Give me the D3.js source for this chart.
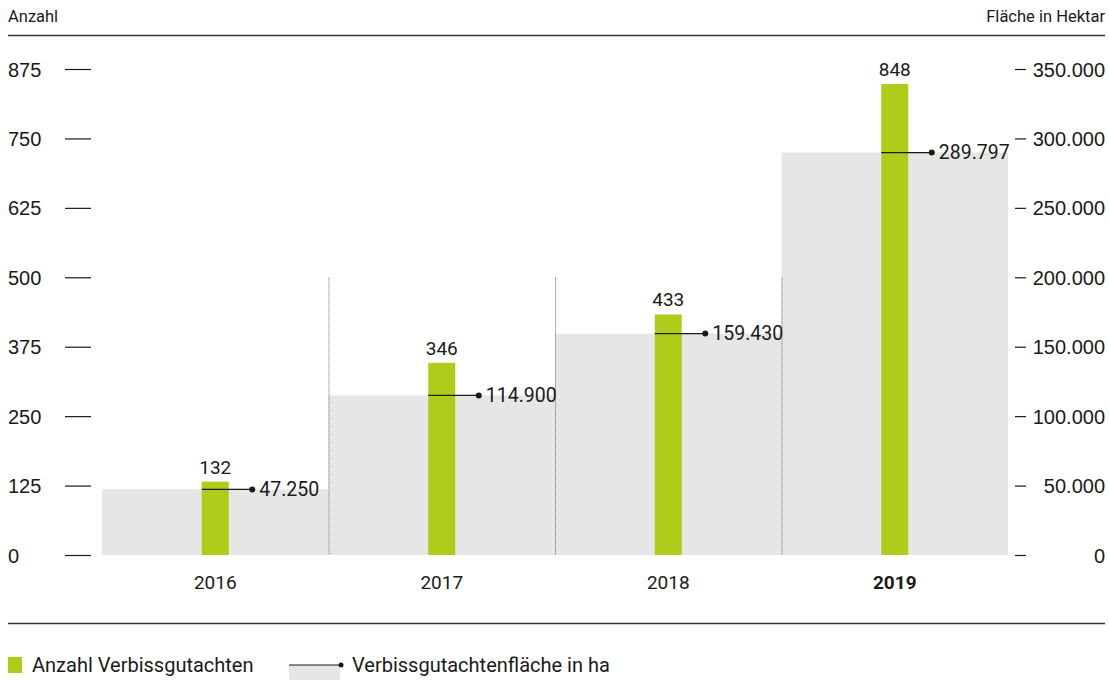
<!DOCTYPE html>
<html lang="de">
<head>
<meta charset="utf-8">
<title>Verbissgutachten</title>
<script src="https://d3js.org/d3.v7.min.js"></script>
<style>
  body { margin: 0; background: #fff; }
  svg { font-family: "Roboto", "Liberation Sans", sans-serif; fill: #1a1a1a; }
  .axis text { font-size: 20px; fill: #1a1a1a; }
</style>
</head>
<body>
<script>
// data
var years = ["2016", "2017", "2018", "2019"];
var anzahl = [132, 346, 433, 848];
var flaeche = [47250, 114900, 159430, 289797];
var leftTicks = [0, 125, 250, 375, 500, 625, 750, 875];
var rightTicks = [0, 50000, 100000, 150000, 200000, 250000, 300000, 350000];

var w = 1109, h = 680;
var green = "#b0cb19", grey = "#e6e6e6", ink = "#1a1a1a";

var de = d3.formatLocale({decimal: ",", thousands: ".", grouping: [3], currency: ["", "€"]});
var fmt = de.format(",d");

var svg = d3.select("body").append("svg")
    .attr("width", w)
    .attr("height", h);

// scales
var x = d3.scaleBand().domain(years).range([102, 1008]).padding(0);
var yL = d3.scaleLinear().domain([0, 875]).range([555, 69]);
var yR = d3.scaleLinear().domain([0, 350000]).range([555, 69]);

// header
svg.append("text").attr("x", 8).attr("y", 22).attr("font-size", 16.5).text("Anzahl");
svg.append("text").attr("x", 1105).attr("y", 22).attr("font-size", 16.5)
    .attr("text-anchor", "end").text("Fläche in Hektar");
svg.append("line").attr("x1", 8).attr("x2", 1105).attr("y1", 35.5).attr("y2", 35.5)
    .attr("stroke", "#333").attr("stroke-width", 1.3);

// grey area columns
svg.selectAll("rect.area")
    .data(years)
    .enter()
    .append("rect")
    .attr("class", "area")
    .attr("x", d => x(d))
    .attr("width", x.bandwidth())
    .attr("y", (d, i) => yR(flaeche[i]))
    .attr("height", (d, i) => yR(0) - yR(flaeche[i]))
    .attr("fill", grey);

// dotted separators
svg.selectAll("line.sep")
    .data(years.slice(1))
    .enter()
    .append("line")
    .attr("class", "sep")
    .attr("x1", d => x(d) + 0.5)
    .attr("x2", d => x(d) + 0.5)
    .attr("y1", yL(500))
    .attr("y2", yL(0))
    .attr("stroke", "#666")
    .attr("stroke-width", 1)
    .attr("stroke-dasharray", "1,1");

// green bars
var bw = 27;
svg.selectAll("rect.bar")
    .data(years)
    .enter()
    .append("rect")
    .attr("class", "bar")
    .attr("x", d => x(d) + x.bandwidth() / 2 - bw / 2)
    .attr("width", bw)
    .attr("y", (d, i) => yL(anzahl[i]))
    .attr("height", (d, i) => yL(0) - yL(anzahl[i]))
    .attr("fill", green);

// bar labels
svg.selectAll("text.blab")
    .data(years)
    .enter()
    .append("text")
    .attr("class", "blab")
    .attr("x", d => x(d) + x.bandwidth() / 2)
    .attr("y", (d, i) => yL(anzahl[i]) - 8)
    .attr("text-anchor", "middle")
    .attr("font-size", 19)
    .text((d, i) => anzahl[i]);

// area marker lines + dots
var g = svg.selectAll("g.mark")
    .data(years)
    .enter()
    .append("g")
    .attr("class", "mark");
g.append("line")
    .attr("x1", d => x(d) + x.bandwidth() / 2 - bw / 2)
    .attr("x2", d => x(d) + x.bandwidth() / 2 + 37)
    .attr("y1", (d, i) => yR(flaeche[i]))
    .attr("y2", (d, i) => yR(flaeche[i]))
    .attr("stroke", ink)
    .attr("stroke-width", 1.2);
g.append("circle")
    .attr("cx", d => x(d) + x.bandwidth() / 2 + 37)
    .attr("cy", (d, i) => yR(flaeche[i]))
    .attr("r", 3)
    .attr("fill", ink);
g.append("text")
    .attr("x", d => x(d) + x.bandwidth() / 2 + 44)
    .attr("y", (d, i) => yR(flaeche[i]))
    .attr("dy", "0.35em")
    .attr("font-size", 19.5)
    .text((d, i) => fmt(flaeche[i]));

// left axis
var axL = svg.append("g")
    .attr("class", "axis")
    .attr("transform", "translate(91,0)")
    .call(d3.axisLeft(yL).tickValues(leftTicks).tickSize(26).tickFormat(d3.format("d")));
axL.select(".domain").remove();
axL.selectAll(".tick line").attr("stroke", ink).attr("stroke-width", 1.2);
axL.selectAll(".tick text").attr("x", -83).attr("text-anchor", "start").attr("dy", "0.35em");

// right axis
var axR = svg.append("g")
    .attr("class", "axis")
    .attr("transform", "translate(1026,0)")
    .call(d3.axisLeft(yR).tickValues(rightTicks).tickSize(11).tickFormat(fmt));
axR.select(".domain").remove();
axR.selectAll(".tick line").attr("stroke", ink).attr("stroke-width", 1.2);
axR.selectAll(".tick text").attr("x", 79).attr("text-anchor", "end").attr("dy", "0.35em");

// x labels
svg.selectAll("text.xlab")
    .data(years)
    .enter()
    .append("text")
    .attr("class", "xlab")
    .attr("x", d => x(d) + x.bandwidth() / 2)
    .attr("y", 589)
    .attr("text-anchor", "middle")
    .attr("font-size", 19)
    .attr("font-weight", d => d === "2019" ? 700 : 400)
    .text(d => d);

// bottom rule
svg.append("line").attr("x1", 8).attr("x2", 1105).attr("y1", 623.5).attr("y2", 623.5)
    .attr("stroke", "#333").attr("stroke-width", 1.3);

// legend
svg.append("rect").attr("x", 8).attr("y", 657).attr("width", 14).attr("height", 16).attr("fill", green);
svg.append("text").attr("x", 32).attr("y", 672).attr("font-size", 20).text("Anzahl Verbissgutachten");
svg.append("rect").attr("x", 289).attr("y", 665).attr("width", 51).attr("height", 15).attr("fill", grey);
svg.append("line").attr("x1", 289).attr("x2", 340).attr("y1", 665).attr("y2", 665)
    .attr("stroke", ink).attr("stroke-width", 1.2);
svg.append("circle").attr("cx", 341).attr("cy", 665).attr("r", 2.5).attr("fill", ink);
svg.append("text").attr("x", 352).attr("y", 672).attr("font-size", 20).text("Verbissgutachtenfläche in ha");
</script>
</body>
</html>
